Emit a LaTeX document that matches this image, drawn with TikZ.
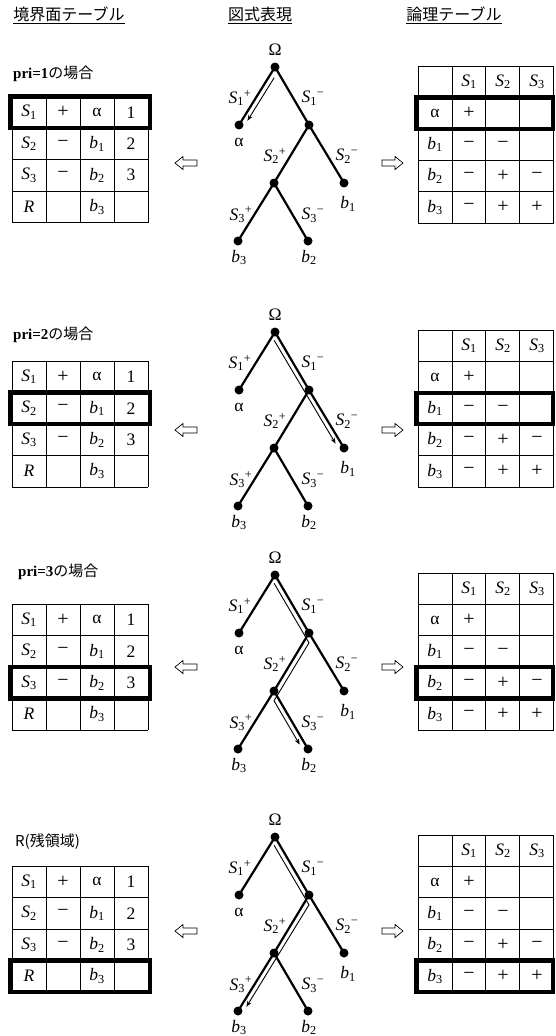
\documentclass[tikz,border=0pt]{standalone}
\usepackage{fontspec}
\setmainfont{Liberation Serif}
\newfontfamily\jpfont{Noto Sans CJK JP}
\usetikzlibrary{arrows.meta,calc}

\newcommand{\Sv}[1]{\textit{S}\textsubscript{#1}}
\newcommand{\bv}[1]{\textit{b}\textsubscript{#1}}
\newcommand{\Sp}[2]{\textit{S}\textsubscript{#1}\textsuperscript{#2}}
\newcommand{\mn}{−}
\newcommand{\bigmn}{{\fontsize{20}{20}\selectfont −}}
\newcommand{\bigpl}{{\fontsize{20}{20}\selectfont +}}

\tikzset{
  cell/.style={inner sep=0pt, font=\fontsize{17.5}{20}\selectfont},
  gridline/.style={line width=0.8pt, draw=black},
  hilite/.style={line width=4.5pt, draw=black},
  edge/.style={line width=2.2pt},
  dot/.style={circle, fill=black, inner sep=0pt, minimum size=9pt},
  lbl/.style={inner sep=0pt, font=\fontsize{17.5}{20}\selectfont},
  trace/.style={line width=0.9pt, -{Stealth[length=6pt,width=4.5pt]}},
  hollow/.style={draw=black, line width=0.7pt, fill=white},
  header/.style={font=\jpfont\fontsize{16}{18}\selectfont, inner sep=0pt},
  ptitle/.style={inner sep=0pt, anchor=west},
}

\newcommand{\LeftTab}[3]{%
  \foreach \k in {0,...,4} \draw[gridline] (12,{#2+\k*31.5}) -- (148,{#2+\k*31.5});
  \foreach \xx in {12,46,80,114,148} \draw[gridline] (\xx,#2) -- (\xx,{#2+126});
  \foreach \r/\ca/\cb/\cc/\cd in {1/\Sv{1}/\bigpl/α/1, 2/\Sv{2}/\bigmn/\bv{1}/2, 3/\Sv{3}/\bigmn/\bv{2}/3, 4/\textit{R}/{}/\bv{3}/{}}{
    \node[cell] (#1-\r-1) at (29,{#2+(\r-0.5)*31.5}) {\ca};
    \node[cell] (#1-\r-2) at (63,{#2+(\r-0.5)*31.5}) {\cb};
    \node[cell] (#1-\r-3) at (97,{#2+(\r-0.5)*31.5}) {\cc};
    \node[cell] (#1-\r-4) at (131,{#2+(\r-0.5)*31.5}) {\cd};
  }
  \draw[hilite] (10.5,{#2+(#3-1)*31.5}) rectangle (150,{#2+#3*31.5});
}

\newcommand{\RightTab}[3]{%
  \foreach \k in {0,...,5} \draw[gridline] (418,{#2+\k*31.4}) -- (553.6,{#2+\k*31.4});
  \foreach \xx in {418,451.9,485.8,519.7,553.6} \draw[gridline] (\xx,#2) -- (\xx,{#2+157});
  \foreach \r/\ca/\cb/\cc/\cd in {1/{}/\Sv{1}/\Sv{2}/\Sv{3}, 2/α/\bigpl/{}/{}, 3/\bv{1}/\bigmn/\bigmn/{}, 4/\bv{2}/\bigmn/\bigpl/\bigmn, 5/\bv{3}/\bigmn/\bigpl/\bigpl}{
    \node[cell] (#1-\r-1) at (435,{#2+(\r-0.5)*31.4}) {\ca};
    \node[cell] (#1-\r-2) at (469,{#2+(\r-0.5)*31.4}) {\cb};
    \node[cell] (#1-\r-3) at (503,{#2+(\r-0.5)*31.4}) {\cc};
    \node[cell] (#1-\r-4) at (537,{#2+(\r-0.5)*31.4}) {\cd};
  }
  \draw[hilite] (416.5,{#2+(#3-1)*31.4}) rectangle (553,{#2+#3*31.4});
}

\newcommand{\TreeAt}[4]{%
\begin{scope}[shift={(#2,#3)}]
  \node[dot] (#1-R) at (0,0) {};
  \node[dot] (#1-A) at (-36,58) {};
  \node[dot] (#1-N1) at (34,58) {};
  \node[dot] (#1-N2) at (-1,116) {};
  \node[dot] (#1-B1) at (69,116) {};
  \node[dot] (#1-B3) at (-37,174) {};
  \node[dot] (#1-B2) at (33,174) {};
  \draw[edge] (#1-R.center) -- (#1-A.center);
  \draw[edge] (#1-R.center) -- (#1-N1.center);
  \draw[edge] (#1-N1.center) -- (#1-N2.center);
  \draw[edge] (#1-N1.center) -- (#1-B1.center);
  \draw[edge] (#1-N2.center) -- (#1-B3.center);
  \draw[edge] (#1-N2.center) -- (#1-B2.center);
  \node[lbl] (#1-Om) at (0,-17) {Ω};
  \node[lbl] (#1-l1p) at (-35,31) {\Sp{1}{+}};
  \node[lbl] (#1-l1m) at (38,31) {\Sp{1}{\mn}};
  \node[lbl] (#1-la) at (-36,75) {α};
  \node[lbl] (#1-l2p) at (0,89) {\Sp{2}{+}};
  \node[lbl] (#1-l2m) at (72,89) {\Sp{2}{\mn}};
  \node[lbl] (#1-lb1) at (73,137) {\bv{1}};
  \node[lbl] (#1-l3p) at (-34,148) {\Sp{3}{+}};
  \node[lbl] (#1-l3m) at (38,148) {\Sp{3}{\mn}};
  \node[lbl] (#1-lb3) at (-36,190.5) {\bv{3}};
  \node[lbl] (#1-lb2) at (34,190.5) {\bv{2}};
  #4
\end{scope}}

\newcommand{\ArrL}[1]{\draw[hollow] (175,#1) -- (183,{#1-6.5}) -- (183,{#1-3}) -- (197,{#1-3}) -- (197,{#1+3}) -- (183,{#1+3}) -- (183,{#1+6.5}) -- cycle;}
\newcommand{\ArrR}[1]{\draw[hollow] (403,#1) -- (395,{#1-6.5}) -- (395,{#1-3}) -- (382,{#1-3}) -- (382,{#1+3}) -- (395,{#1+3}) -- (395,{#1+6.5}) -- cycle;}

\begin{document}
\begin{tikzpicture}[x=1pt,y=-1pt]
\useasboundingbox (0,0) rectangle (555,1036);
\fill[white] (0,0) rectangle (555,1036);

% headers
\coordinate (ul) at (0,23);
\node[header] (h1) at (69,14) {境界面テーブル};
\node[header] (h2) at (260,14) {図式表現};
\node[header] (h3) at (454,14) {論理テーブル};
\foreach \h in {h1,h2,h3} \draw[line width=0.8pt] (\h.west |- ul) -- (\h.east |- ul);

% panel titles
\node[ptitle] (t1) at (13,74) {\fontsize{15}{17}\selectfont{\bfseries pri=1}{\jpfont の場合}};
\node[ptitle] (t2) at (13,335) {\fontsize{15}{17}\selectfont{\bfseries pri=2}{\jpfont の場合}};
\node[ptitle] (t3) at (18,572) {\fontsize{15}{17}\selectfont{\bfseries pri=3}{\jpfont の場合}};
\node[ptitle] (t4) at (15,842) {\jpfont\fontsize{15}{17}\selectfont R(残領域)};

% tables
\LeftTab{L1}{96.5}{1}
\LeftTab{L2}{361}{2}
\LeftTab{L3}{604}{3}
\LeftTab{L4}{866}{4}
\RightTab{R1}{66}{2}
\RightTab{R2}{330}{3}
\RightTab{R3}{573}{4}
\RightTab{R4}{835}{5}

% hollow arrows
\ArrL{163} \ArrR{163}
\ArrL{430} \ArrR{430}
\ArrL{667} \ArrR{667}
\ArrL{931} \ArrR{931}

% trees
\TreeAt{T1}{275}{67}{%
  \coordinate (T1-s) at (-0.8,10.7); \coordinate (T1-e) at (-27.6,53.8);
  \draw[trace] (T1-s) -- (T1-e);}
\TreeAt{T2}{275}{332}{%
  \coordinate (T2-s) at (-0.9,8.3); \coordinate (T2-e) at (60.6,111.6);
  \draw[trace] (T2-s) -- (T2-e);}
\TreeAt{T3}{275}{575}{%
  \coordinate (T3-s) at (-0.9,8.3); \coordinate (T3-c1) at (34,67.8);
  \coordinate (T3-c2) at (-1,125.8); \coordinate (T3-e) at (24.7,169.6);
  \draw[trace] (T3-s) -- (T3-c1) -- (T3-c2) -- (T3-e);}
\TreeAt{T4}{275}{837}{%
  \coordinate (T4-s) at (-0.9,8.3); \coordinate (T4-c1) at (34,67.8);
  \coordinate (T4-e) at (-28.6,169.8);
  \draw[trace] (T4-s) -- (T4-c1) -- (T4-e);}
\end{tikzpicture}
\end{document}
